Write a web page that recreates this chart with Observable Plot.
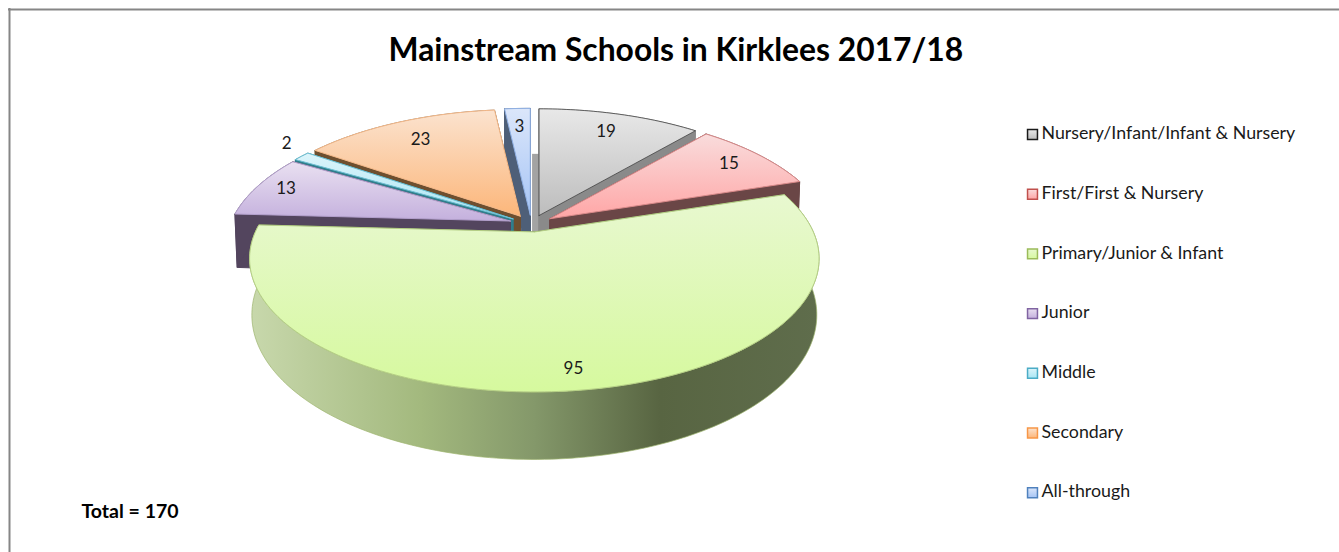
<!DOCTYPE html>
<html><head><meta charset="utf-8">
<script src="https://cdn.jsdelivr.net/npm/d3@7"></script>
<script src="https://cdn.jsdelivr.net/npm/@observablehq/plot@0.6"></script>
<style>html,body{margin:0;padding:0;background:#fff}svg{display:block}</style>
</head><body><div id="chart"></div>
<script>
const categories = ["Nursery/Infant/Infant & Nursery","First/First & Nursery","Primary/Junior & Infant","Junior","Middle","Secondary","All-through"];
const values = [19,15,95,13,2,23,3];
const titleText = "Mainstream Schools in Kirklees 2017/18";
const totalText = "Total = 170";
const topLight = ["#e8e8e8","#f9dcdc","#e8f8d0","#e9e0f1","#dcf4fa","#fbe3cf","#dbe6fa"];
const topDark  = ["#bdbdbd","#ffa6a6","#d6f99e","#c4b0dd","#a9e6f4","#fcb67a","#a6c5f5"];
const edge     = ["#333333","#d98a8a","#b5cf85","#b3a0cc","#6fc0d4","#f4b98a","#8fb0e4"];
const wall     = ["#8a8a8a","#6a4646","#6f7f55","#53455e","#2f7f8c","#6e4f2f","#4e5f78"];
const legendEdge = ["#1a1a1a","#c0504d","#9bbb59","#8064a2","#4bacc6","#f79646","#4f81bd"];
const drawOrder = [6,0,5,4,1,3,2];
const labelRadius = [0.83,0.86,0.87,0.89,1.07,0.82,0.84];
const labelLift   = [0,0,1,1,8,0,-1];

const W = 1339, H = 552;
const cx = 531, cy = 223, rx = 279, ry = 128;
const persp = 0.2, depth = 54 / ry, taper = 0.992;
const explodeX = 22 / rx, explodeY = 8.5 / ry;

const total = d3.sum(values);
let acc = 0;
const slices = values.map((v, i) => {
  const a0 = acc / total * 2 * Math.PI; acc += v;
  const a1 = acc / total * 2 * Math.PI;
  const m = (a0 + a1) / 2;
  return {i, v, a0, a1, m, ox: explodeX * Math.sin(m), oy: explodeY * Math.cos(m)};
});
const rim = (s, t, r, low) => {
  const k = 1 / (1 + persp * Math.cos(t));
  const X = r * Math.sin(t) * k, Y = r * Math.cos(t) * k;
  return low ? {x: s.ox + X * taper, y: s.oy + Y - depth * k}
             : {x: s.ox + X, y: s.oy + Y};
};
const arc = (s, low, from = s.a0, to = s.a1) => {
  const n = Math.max(2, Math.ceil(Math.abs(to - from) / 0.02));
  return d3.range(n + 1).map(j => rim(s, from + (to - from) * j / n, 1, low));
};
const apex = (s, low) => low ? {x: s.ox, y: s.oy - depth * 1.02} : {x: s.ox, y: s.oy};

const shape = (pts, fill, stroke, extra = {}) =>
  Plot.line([...pts, pts[0]], {x: "x", y: "y", fill, stroke: stroke ?? "none", strokeWidth: 1, curve: "linear", ...extra});

const marks = [];
marks.push(() => {
  const ns = "http://www.w3.org/2000/svg";
  const defs = document.createElementNS(ns, "defs");
  const grad = (id, stops, horiz) => {
    const g = document.createElementNS(ns, "linearGradient");
    g.setAttribute("id", id); g.setAttribute("x1", 0); g.setAttribute("y1", 0);
    g.setAttribute("x2", horiz ? 1 : 0); g.setAttribute("y2", horiz ? 0 : 1);
    stops.forEach(([o, c]) => {
      const st = document.createElementNS(ns, "stop");
      st.setAttribute("offset", o); st.setAttribute("stop-color", c); g.appendChild(st);
    });
    defs.appendChild(g);
  };
  categories.forEach((c, i) => grad("top" + i, [[0, topLight[i]], [1, topDark[i]]]));
  grad("greenWall", [[0, "#c8d8ac"], [0.3, "#a3b97e"], [0.5, "#84986a"], [0.72, "#586542"], [1, "#5f6d4c"]], true);
  const f = document.createElementNS(ns, "filter");
  f.setAttribute("id", "soft"); f.setAttribute("x", "-5%"); f.setAttribute("y", "-5%");
  f.setAttribute("width", "110%"); f.setAttribute("height", "110%");
  const b = document.createElementNS(ns, "feGaussianBlur");
  b.setAttribute("stdDeviation", "1.2"); f.appendChild(b); defs.appendChild(f);
  return defs;
});

// top and left border only
marks.push(Plot.ruleX([(9 - cx) / rx], {stroke: "#868686", strokeWidth: 2, y1: (cy - 8) / ry, y2: (cy - H) / ry}));
marks.push(Plot.ruleY([(cy - 9) / ry], {stroke: "#868686", strokeWidth: 2, x1: (8 - cx) / rx, x2: (W - cx) / rx}));

// slices back to front
for (const idx of drawOrder) {
  const s = slices[idx];
  const A = apex(s, false), B = apex(s, true);
  const up = arc(s, false), low = arc(s, true);
  const wc = idx === 2 ? "url(#greenWall)" : wall[idx];
  if (idx === 2 || idx === 3) {
    const shadowPts = arc(s, true).map(p => ({x: s.ox + (p.x - s.ox) * 1.004, y: p.y - 2.5 / ry}));
    marks.push(shape([...up, ...shadowPts.reverse()], "#6f6f78", null, {ariaLabel: "shadow", fillOpacity: 0.75}));
  }
  if (idx === 0) {
    // far cut face of the first slice, seen beside its upright edge
    const c0 = rim(s, s.a0, 1, true);
    marks.push(shape([{x: c0.x - 7 / rx, y: c0.y}, {x: c0.x, y: c0.y}, B, {x: B.x - 7 / rx, y: B.y}], "#a3a3a3"));
  }
  marks.push(shape([A, up[0], low[0], B], wall[idx], wall[idx]));
  marks.push(shape([A, up[up.length - 1], low[low.length - 1], B], wall[idx], wall[idx]));
  marks.push(shape([...up, ...low.slice().reverse()], wc, idx === 2 ? "#9db56f" : wall[idx], {strokeWidth: 0.7}));
  marks.push(shape([A, ...up], `url(#top${idx})`, edge[idx], {strokeWidth: idx === 0 ? 0.7 : 1}));
}

// data labels
const labels = slices.map(s => {
  const p = rim(s, s.m, labelRadius[s.i], false);
  return {x: p.x, y: p.y + labelLift[s.i] / ry, v: s.v};
});
marks.push(Plot.text(labels, {x: "x", y: "y", text: d => String(d.v), fontFamily: "Lato", fontSize: 17, fill: "#1a1a1a"}));

// title, note, legend
marks.push(Plot.text([titleText], {frameAnchor: "top-left", dx: 388, dy: 50, text: d => d, fontFamily: "Lato", fontWeight: 700, fontSize: 31.8, fill: "#000", lineAnchor: "middle", textAnchor: "start"}));
marks.push(Plot.text([totalText], {frameAnchor: "top-left", dx: 81, dy: 511, text: d => d, fontFamily: "Lato", fontWeight: 700, fontSize: 19.5, fill: "#000", lineAnchor: "middle", textAnchor: "start"}));
categories.forEach((c, i) => {
  const ly = 134 + i * 59.7;
  marks.push(Plot.dot([c], {frameAnchor: "top-left", dx: 1032, dy: ly, symbol: "square", r: 5.6, fill: `url(#top${i})`, stroke: legendEdge[i], strokeWidth: 1.5}));
  marks.push(Plot.text([c], {frameAnchor: "top-left", dx: 1041, dy: ly - 1, text: d => d, fontFamily: "Lato", fontSize: 17.8, fill: "#1a1a1a", textAnchor: "start", lineAnchor: "middle"}));
});

const chart = Plot.plot({
  width: W, height: H,
  margin: 0, style: {background: "#fff"},
  x: {domain: [-cx / rx, (W - cx) / rx], range: [0, W], axis: null},
  y: {domain: [(cy - H) / ry, cy / ry], range: [H, 0], axis: null},
  marks
});
d3.select(chart).selectAll('g[aria-label="shadow"]').attr("filter", "url(#soft)");
document.getElementById("chart").appendChild(chart);
</script>
</body></html>
